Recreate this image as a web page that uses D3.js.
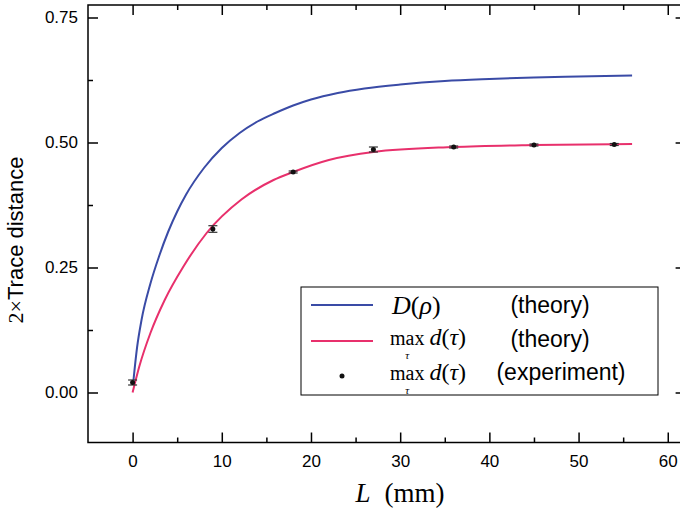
<!DOCTYPE html>
<html>
<head>
<meta charset="utf-8">
<script src="https://cdn.jsdelivr.net/npm/d3@7"></script>
<style>
  html, body { margin: 0; padding: 0; background: #fff; }
  svg { display: block; }
</style>
</head>
<body>
<svg id="chart" width="680" height="512"></svg>
<script>
// theory curves
const blueX = [0.1, 0.5, 1, 2, 3, 4, 5, 6, 8, 10, 12, 14, 16, 18, 20, 23, 26, 30, 35, 40, 45, 50, 56];
const blueY = [0.025, 0.09, 0.145, 0.218, 0.274, 0.322, 0.362, 0.396, 0.449, 0.489, 0.519, 0.542, 0.559, 0.574, 0.586, 0.599, 0.608, 0.616, 0.623, 0.627, 0.630, 0.632, 0.634];
const redX = [0, 0.75, 2, 3.6, 5.7, 8.3, 12.2, 15.8, 18, 22, 27, 36, 45, 56];
const redY = [0, 0.052, 0.119, 0.185, 0.252, 0.319, 0.386, 0.425, 0.441, 0.465, 0.481, 0.491, 0.495, 0.497];

// experiment points with error bars
const expX = [0, 9, 18, 27, 36, 45, 54];
const expY = [0.02, 0.327, 0.441, 0.486, 0.491, 0.495, 0.496];
const expErr = [0.005, 0.0066, 0.002, 0.005, 0.002, 0.002, 0.002];

const xMajor = [0, 10, 20, 30, 40, 50, 60];
const xMinor = [5, 15, 25, 35, 45, 55];
const yMajor = [0, 0.25, 0.5, 0.75];
const yMinor = [0.125, 0.375, 0.625];

const blue = '#3a4ba6';
const red = '#e8306c';
const sans = '"Liberation Sans", Arial, Helvetica, sans-serif';
const serif = '"Liberation Serif", "DejaVu Serif", serif';

const svg = d3.select('#chart');

const x = d3.scaleLinear().domain([-5, 62]).range([88, 685.6]);
const y = d3.scaleLinear().domain([-0.1, 0.775]).range([442.5, 5]);

const plotL = x.range()[0], plotR = x.range()[1];
const plotT = y.range()[1], plotB = y.range()[0];

// axes (ticks point inward on all four sides)
const fmt = d3.format('.2f');

function styleAxis(g) {
    g.select('.domain').remove();
    g.selectAll('line').attr('stroke', '#000').attr('stroke-width', 1.5);
    g.selectAll('text').style('font-family', sans).style('font-size', '17px').attr('fill', '#000');
}

svg.append('g')
    .attr('transform', `translate(0,${plotB})`)
    .call(d3.axisBottom(x).tickValues(xMajor).tickSize(-10).tickPadding(12).tickFormat(d3.format('d')))
    .call(styleAxis);
svg.append('g')
    .attr('transform', `translate(0,${plotB})`)
    .call(d3.axisBottom(x).tickValues(xMinor).tickSize(-5).tickFormat(''))
    .call(styleAxis);
svg.append('g')
    .attr('transform', `translate(0,${plotT})`)
    .call(d3.axisTop(x).tickValues(xMajor).tickSize(-10).tickFormat(''))
    .call(styleAxis);
svg.append('g')
    .attr('transform', `translate(0,${plotT})`)
    .call(d3.axisTop(x).tickValues(xMinor).tickSize(-5).tickFormat(''))
    .call(styleAxis);

svg.append('g')
    .attr('transform', `translate(${plotL},0)`)
    .call(d3.axisLeft(y).tickValues(yMajor).tickSize(-10).tickPadding(10).tickFormat(fmt))
    .call(styleAxis);
svg.append('g')
    .attr('transform', `translate(${plotL},0)`)
    .call(d3.axisLeft(y).tickValues(yMinor).tickSize(-5).tickFormat(''))
    .call(styleAxis);
svg.append('g')
    .attr('transform', `translate(${plotR},0)`)
    .call(d3.axisRight(y).tickValues(yMajor).tickSize(-10).tickFormat(''))
    .call(styleAxis);
svg.append('g')
    .attr('transform', `translate(${plotR},0)`)
    .call(d3.axisRight(y).tickValues(yMinor).tickSize(-5).tickFormat(''))
    .call(styleAxis);

// frame
svg.append('rect')
    .attr('x', plotL).attr('y', plotT)
    .attr('width', plotR - plotL).attr('height', plotB - plotT)
    .attr('fill', 'none').attr('stroke', '#000').attr('stroke-width', 1.5);

// curves
const line = d3.line()
    .x(d => x(d[0]))
    .y(d => y(d[1]))
    .curve(d3.curveMonotoneX);

svg.append('path')
    .datum(blueX.map((v, i) => [v, blueY[i]]))
    .attr('d', line)
    .attr('fill', 'none').attr('stroke', blue).attr('stroke-width', 2);

svg.append('path')
    .datum(redX.map((v, i) => [v, redY[i]]))
    .attr('d', line)
    .attr('fill', 'none').attr('stroke', red).attr('stroke-width', 2);

// experiment points
const pts = expX.map((v, i) => ({ x: v, y: expY[i], e: expErr[i] }));
const pg = svg.append('g').selectAll('g').data(pts).enter().append('g');
pg.append('line')
    .attr('x1', d => x(d.x)).attr('x2', d => x(d.x))
    .attr('y1', d => y(d.y - d.e)).attr('y2', d => y(d.y + d.e))
    .attr('stroke', '#333').attr('stroke-width', 1.2);
pg.append('line')
    .attr('x1', d => x(d.x) - 4.5).attr('x2', d => x(d.x) + 4.5)
    .attr('y1', d => y(d.y + d.e)).attr('y2', d => y(d.y + d.e))
    .attr('stroke', '#333').attr('stroke-width', 1.2);
pg.append('line')
    .attr('x1', d => x(d.x) - 4.5).attr('x2', d => x(d.x) + 4.5)
    .attr('y1', d => y(d.y - d.e)).attr('y2', d => y(d.y - d.e))
    .attr('stroke', '#333').attr('stroke-width', 1.2);
pg.append('circle')
    .attr('cx', d => x(d.x)).attr('cy', d => y(d.y))
    .attr('r', 2.5).attr('fill', '#111');

// axis titles
const yt = svg.append('text')
    .attr('transform', 'translate(23,240) rotate(-90)')
    .attr('text-anchor', 'middle')
    .style('font-family', sans).style('font-size', '22px');
yt.append('tspan').style('font-family', serif).text('2×');
yt.append('tspan').text('Trace distance');

const xt = svg.append('text')
    .attr('x', 400).attr('y', 502)
    .attr('text-anchor', 'middle')
    .style('font-family', serif).style('font-size', '27px');
xt.append('tspan').style('font-style', 'italic').text('L');
xt.append('tspan').attr('dx', 14).text('(mm)');

// legend
const lg = svg.append('g');
lg.append('rect')
    .attr('x', 301).attr('y', 287).attr('width', 357).attr('height', 108)
    .attr('fill', '#fff').attr('stroke', '#000').attr('stroke-width', 1);

lg.append('line').attr('x1', 311).attr('x2', 373).attr('y1', 305).attr('y2', 305)
    .attr('stroke', blue).attr('stroke-width', 2);
lg.append('line').attr('x1', 311).attr('x2', 373).attr('y1', 341).attr('y2', 341)
    .attr('stroke', red).attr('stroke-width', 2);
lg.append('circle').attr('cx', 342).attr('cy', 376).attr('r', 2.5).attr('fill', '#111');

const d1 = lg.append('text').attr('x', 392).attr('y', 314)
    .style('font-family', serif).style('font-size', '26px');
d1.append('tspan').style('font-style', 'italic').text('D');
d1.append('tspan').text('(');
d1.append('tspan').style('font-style', 'italic').text('ρ');
d1.append('tspan').text(')');

// "max d(τ)" with τ set under "max"
function maxLabel(by) {
    const m = lg.append('text').attr('x', 390).attr('y', by)
        .style('font-family', serif).style('font-size', '20px')
        .text('max');
    const mw = m.node().getComputedTextLength();
    lg.append('text')
        .attr('x', 390 + mw / 2).attr('y', by + 14.3)
        .attr('text-anchor', 'middle')
        .style('font-family', serif).style('font-style', 'italic').style('font-size', '11px')
        .text('τ');
    const t = lg.append('text').attr('x', 390 + mw + 5).attr('y', by)
        .style('font-family', serif).style('font-size', '24px');
    t.append('tspan').style('font-style', 'italic').text('d');
    t.append('tspan').text('(');
    t.append('tspan').style('font-style', 'italic').text('τ');
    t.append('tspan').text(')');
}
maxLabel(345);
maxLabel(379.5);

const words = [['(theory)', 313], ['(theory)', 347], ['(experiment)', 380]];
lg.selectAll('.lw').data(words).enter().append('text')
    .attr('class', 'lw')
    .attr('x', d => d[0] === '(experiment)' ? 561 : 550)
    .attr('y', d => d[1])
    .attr('text-anchor', 'middle')
    .style('font-family', sans).style('font-size', '23px')
    .text(d => d[0]);
</script>
</body>
</html>
